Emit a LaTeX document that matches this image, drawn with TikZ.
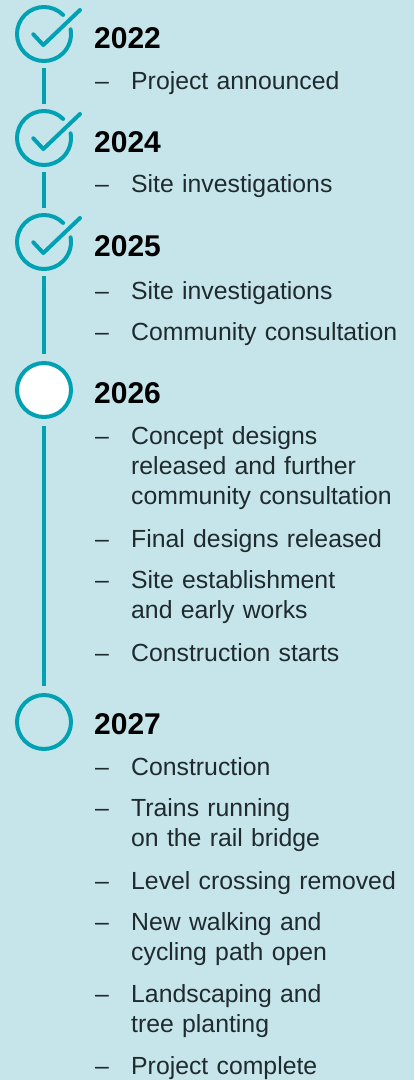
\documentclass[tikz,border=0pt]{standalone}
\usepackage{fontspec}
\setmainfont{Liberation Sans}
\definecolor{bgblue}{HTML}{C6E5EB}
\definecolor{lineteal}{HTML}{00A1B3}
\definecolor{inkgray}{HTML}{1F2A2E}
\tikzstyle{stepring}=[circle,draw=lineteal,fill=white,line width=4bp,minimum size=54bp,inner sep=0pt]
\tikzstyle{openring}=[stepring,fill=none]
\tikzstyle{donering}=[circle,minimum size=54bp,inner sep=0pt]
\tikzstyle{tick}=[draw=lineteal,line width=4bp,line cap=round,line join=round]
\tikzstyle{link}=[draw=lineteal,line width=4bp,shorten <=7bp,shorten >=7bp]
\tikzstyle{yearlabel}=[anchor=base west,inner sep=0pt,text=black,font=\fontsize{30bp}{30bp}\selectfont\bfseries]
\tikzstyle{itemdash}=[anchor=base west,inner sep=0pt,text=inkgray,font=\fontsize{24.8bp}{30bp}\selectfont]
\tikzstyle{itemtext}=[anchor=base west,inner sep=0pt,text=inkgray,align=left,text width=275bp,font=\fontsize{24.8bp}{30bp}\selectfont]

\begin{document}
\begin{tikzpicture}[x=1bp,y=1bp]

\fill[bgblue] (0,0) rectangle (414,-1080);
\useasboundingbox (0,0) rectangle (414,-1080);

% milestones
\node[donering] (C1) at (44,-34) {};
\node[donering] (C2) at (44,-138) {};
\node[donering] (C3) at (44,-242) {};
\node[stepring] (C4) at (44,-390) {};
\node[openring] (C5) at (44,-722) {};

\draw[link] (C1.south) -- (C2.north);
\draw[link] (C2.south) -- (C3.north);
\draw[link] (C3.south) -- (C4.north);
\draw[link] (C4.south) -- (C5.north);

% ticks on the finished years
\draw[tick] ([shift={(45:27)}]C1.center) arc[start angle=45,end angle=370,radius=27];
\draw[tick] ([shift={(-10.7,-0.3)}]C1.center) -- ++(10,-10.7) -- ++(36.7,35);
\draw[tick] ([shift={(45:27)}]C2.center) arc[start angle=45,end angle=370,radius=27];
\draw[tick] ([shift={(-10.7,-0.3)}]C2.center) -- ++(10,-10.7) -- ++(36.7,35);
\draw[tick] ([shift={(45:27)}]C3.center) arc[start angle=45,end angle=370,radius=27];
\draw[tick] ([shift={(-10.7,-0.3)}]C3.center) -- ++(10,-10.7) -- ++(36.7,35);

\node[yearlabel] (Y1) at (94,-48) {2022};
\node[yearlabel] (Y2) at (94,-152) {2024};
\node[yearlabel] (Y3) at (94,-256) {2025};
\node[yearlabel] (Y4) at (94,-403) {2026};
\node[yearlabel] (Y5) at (94,-734) {2027};

\node[itemdash] (D1) at (95,-89) {--};
\node[itemtext] (T1) at (131,-89) {Project announced};

\node[itemdash] (D2) at (95,-192) {--};
\node[itemtext] (T2) at (131,-192) {Site investigations};

\node[itemdash] (D3) at (95,-299) {--};
\node[itemtext] (T3) at (131,-299) {Site investigations};
\node[itemdash] (D4) at (95,-340) {--};
\node[itemtext] (T4) at (131,-340) {Community consultation};

\node[itemdash] (D5) at (95,-444) {--};
\node[itemtext] (T5) at (131,-444) {Concept designs\\released and further\\community consultation};
\node[itemdash] (D6) at (95,-547) {--};
\node[itemtext] (T6) at (131,-547) {Final designs released};
\node[itemdash] (D7) at (95,-588) {--};
\node[itemtext] (T7) at (131,-588) {Site establishment\\and early works};
\node[itemdash] (D8) at (95,-661) {--};
\node[itemtext] (T8) at (131,-661) {Construction starts};

\node[itemdash] (D9) at (95,-775) {--};
\node[itemtext] (T9) at (131,-775) {Construction};
\node[itemdash] (D10) at (95,-816) {--};
\node[itemtext] (T10) at (131,-816) {Trains running\\on the rail bridge};
\node[itemdash] (D11) at (95,-889) {--};
\node[itemtext] (T11) at (131,-889) {Level crossing removed};
\node[itemdash] (D12) at (95,-930) {--};
\node[itemtext] (T12) at (131,-930) {New walking and\\cycling path open};
\node[itemdash] (D13) at (95,-1002) {--};
\node[itemtext] (T13) at (131,-1002) {Landscaping and\\tree planting};
\node[itemdash] (D14) at (95,-1074) {--};
\node[itemtext] (T14) at (131,-1074) {Project complete};

\end{tikzpicture}
\end{document}
